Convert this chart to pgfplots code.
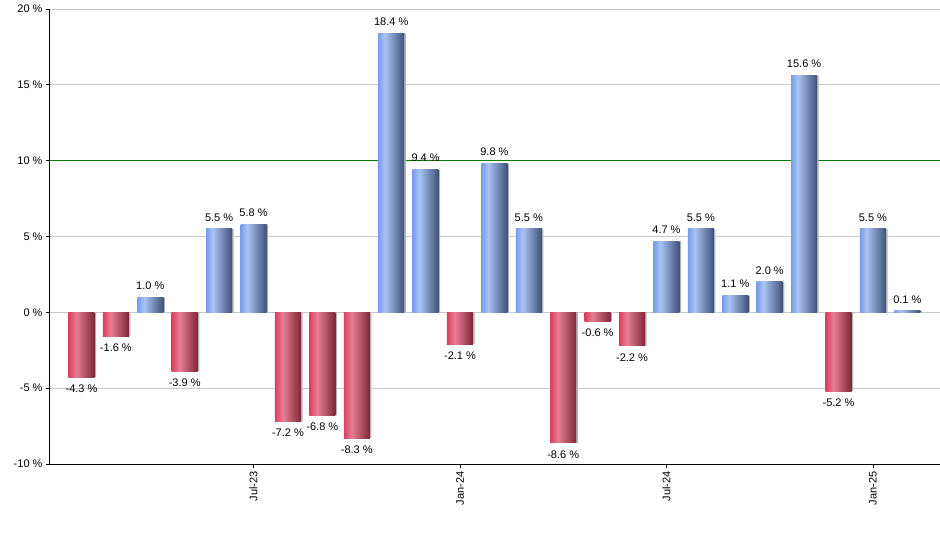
\documentclass[border=0pt]{standalone}
\usepackage{pgfplots}
\pgfplotsset{compat=1.18}
\usepackage{fontspec}
\setmainfont{Liberation Sans}

\definecolor{bluA}{HTML}{769DEA}
\definecolor{bluB}{HTML}{AAC3F2}
\definecolor{bluC}{HTML}{3E5179}
\definecolor{redA}{HTML}{DE3E5D}
\definecolor{redB}{HTML}{E67E94}
\definecolor{redC}{HTML}{7E2739}
\definecolor{gridc}{HTML}{C8C8C8}
\definecolor{goal}{HTML}{008000}

% bar runs from 25bp to 75bp of the shading
\pgfdeclarehorizontalshading{bluebar}{100bp}{color(0bp)=(bluA); color(25bp)=(bluA);
  color(38bp)=(bluB); color(75bp)=(bluC); color(100bp)=(bluC)}
\pgfdeclarehorizontalshading{redbar}{100bp}{color(0bp)=(redA); color(25bp)=(redA);
  color(40bp)=(redB); color(75bp)=(redC); color(100bp)=(redC)}

\pgfplotsset{
    gain/.style={shading=bluebar, draw=none},
    loss/.style={shading=redbar, draw=none},
}

\begin{document}
\begin{tikzpicture}
\useasboundingbox (-50bp,-86bp) rectangle (890bp,464bp);
\begin{axis}[
    at={(0,0)}, anchor=south west,
    scale only axis,
    width=890bp, height=455bp,
    font=\fontsize{11bp}{13bp}\selectfont,
    /pgf/number format/assume math mode=true,
    axis lines=left,
    axis line style={-, black, line width=1bp},
    xmin=-0.915, xmax=24.95,
    ymin=-10, ymax=20,
    ytick={-10,-5,...,20},
    yticklabel={\pgfmathprintnumber{\tick}~\%},
    xtick={5,11,17,23},
    xticklabels={Jul-23,Jan-24,Jul-24,Jan-25},
    x tick label style={rotate=90, anchor=east},
    tick align=outside,
    major tick length=4bp,
    tick style={black, line width=0.8bp},
    ymajorgrids,
    grid style={gridc, line width=0.8bp},
    clip=false,
    ybar, bar width=26bp, bar shift=0pt,
    nodes near coords={\pgfmathprintnumber[fixed,fixed zerofill,precision=1]{\pgfplotspointmeta}~\%},
    nodes near coords align={vertical},
    every node near coord/.append style={inner ysep=7.5bp},
]
% target line at 10 %
\addplot[sharp plot, goal, line width=1bp, forget plot, nodes near coords={}] coordinates {(-0.915,10) (24.95,10)};

% shadows
\addplot[fill=gray!60, draw=none, bar shift=1.6bp, nodes near coords={}] coordinates {
(2,1.0) (4,5.5) (5,5.8) (9,18.4) (10,9.4) (12,9.8) (13,5.5) (17,4.7)
(18,5.5) (19,1.1) (20,2.0) (21,15.6) (23,5.5) (24,0.1)
(0,-4.3) (1,-1.6) (3,-3.9) (6,-7.2) (7,-6.8) (8,-8.3) (11,-2.1)
(14,-8.6) (15,-0.6) (16,-2.2) (22,-5.2)};

% one plot per bar, so that each bar gets its own shading
\addplot[loss] coordinates {(0,-4.3)};   % Feb-23
\addplot[loss] coordinates {(1,-1.6)};
\addplot[gain] coordinates {(2,1.0)};
\addplot[loss] coordinates {(3,-3.9)};
\addplot[gain] coordinates {(4,5.5)};
\addplot[gain] coordinates {(5,5.8)};    % Jul-23
\addplot[loss] coordinates {(6,-7.2)};
\addplot[loss] coordinates {(7,-6.8)};
\addplot[loss] coordinates {(8,-8.3)};
\addplot[gain] coordinates {(9,18.4)};
\addplot[gain] coordinates {(10,9.4)};
\addplot[loss] coordinates {(11,-2.1)};  % Jan-24
\addplot[gain] coordinates {(12,9.8)};
\addplot[gain] coordinates {(13,5.5)};
\addplot[loss] coordinates {(14,-8.6)};
\addplot[loss] coordinates {(15,-0.6)};
\addplot[loss] coordinates {(16,-2.2)};
\addplot[gain] coordinates {(17,4.7)};   % Jul-24
\addplot[gain] coordinates {(18,5.5)};
\addplot[gain] coordinates {(19,1.1)};
\addplot[gain] coordinates {(20,2.0)};
\addplot[gain] coordinates {(21,15.6)};
\addplot[loss] coordinates {(22,-5.2)};
\addplot[gain] coordinates {(23,5.5)};   % Jan-25
\addplot[gain] coordinates {(24,0.1)};
\end{axis}
\end{tikzpicture}
\end{document}
